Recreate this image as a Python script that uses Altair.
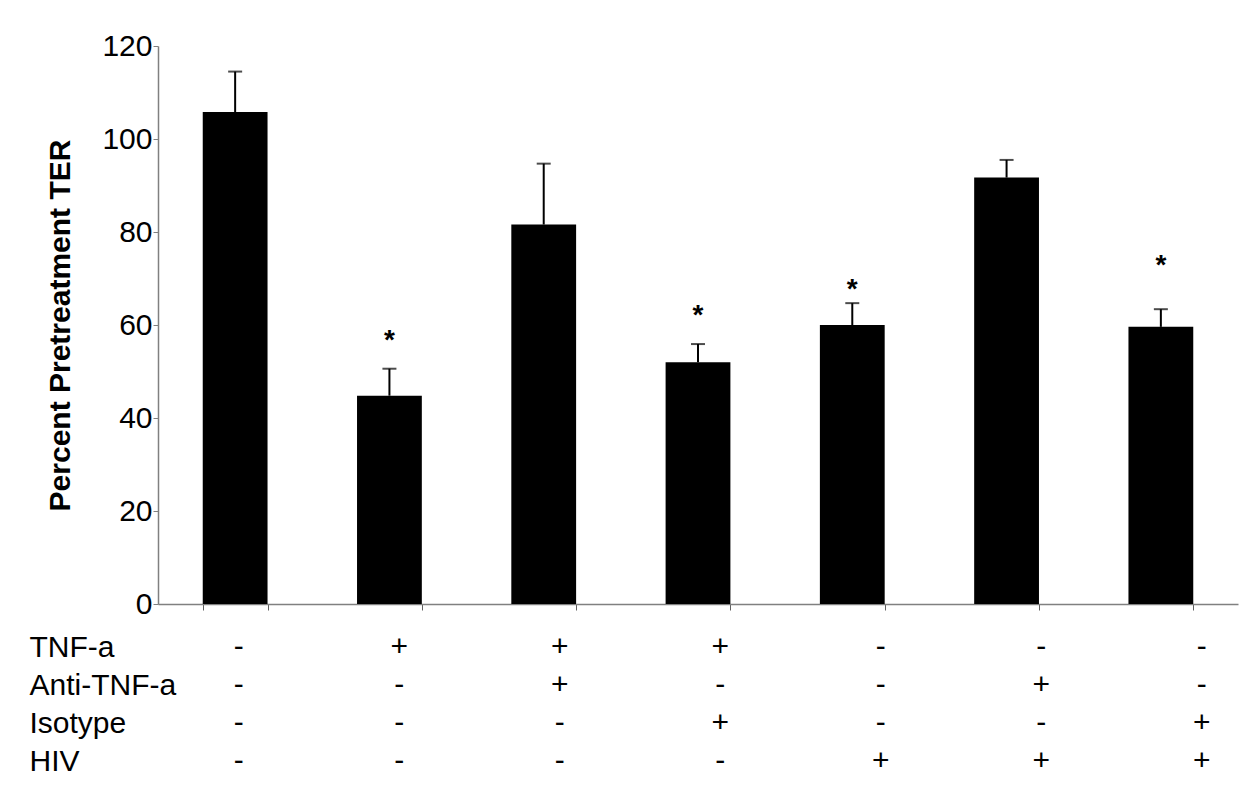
import altair as alt
import pandas as pd

# ---- data ----
conditions = ["Control", "TNF-a", "TNF-a + Anti-TNF-a", "TNF-a + Isotype",
              "HIV", "HIV + Anti-TNF-a", "HIV + Isotype"]
ter_mean = [105.8, 44.8, 81.6, 52.0, 60.0, 91.7, 59.6]
ter_err = [8.7, 5.8, 13.1, 3.9, 4.7, 3.8, 3.8]

star_conditions = ["TNF-a", "TNF-a + Isotype", "HIV", "HIV + Isotype"]
star_heights = [57.5, 62.9, 68.4, 73.5]

row_labels = ["TNF-a", "Anti-TNF-a", "Isotype", "HIV"]
tnf_row = ["-", "+", "+", "+", "-", "-", "-"]
anti_row = ["-", "-", "+", "-", "-", "+", "-"]
iso_row = ["-", "-", "-", "+", "-", "-", "+"]
hiv_row = ["-", "-", "-", "-", "+", "+", "+"]

FONT = "Liberation Sans"

bars_df = pd.DataFrame({
    "condition": conditions,
    "mean": ter_mean,
    "top": [m + e for m, e in zip(ter_mean, ter_err)],
})
stars_df = pd.DataFrame({"condition": star_conditions, "h": star_heights, "s": ["*"] * len(star_conditions)})

table_rows = []
for label, row in zip(row_labels, [tnf_row, anti_row, iso_row, hiv_row]):
    for c, sym in zip(conditions, row):
        table_rows.append({"row": label, "condition": c, "sym": sym})
table_df = pd.DataFrame(table_rows)

x_main = alt.X(
    "condition:N", sort=conditions, title=None,
    scale=alt.Scale(paddingInner=0.58, paddingOuter=0.29),
    axis=alt.Axis(labels=False, domainColor="#808080", tickColor="#606060",
                  tickSize=6, tickBand="extent", domainWidth=1.5),
)
y_main = alt.Y(
    "mean:Q", title="Percent Pretreatment TER",
    scale=alt.Scale(domain=[0, 120], nice=False),
    axis=alt.Axis(values=[0, 20, 40, 60, 80, 100, 120], grid=False,
                  labelFontSize=30, labelFont=FONT, labelColor="black", labelPadding=1,
                  tickSize=5, tickColor="#808080", domainColor="#808080", domainWidth=1.5,
                  titleFontSize=30, titleFont=FONT, titleFontWeight="bold",
                  titleColor="black", titlePadding=26),
)

bars = alt.Chart(bars_df).mark_bar(color="black").encode(x=x_main, y=y_main)
err_line = alt.Chart(bars_df).mark_rule(color="black", strokeWidth=2).encode(
    x=alt.X("condition:N", sort=conditions), y="mean:Q", y2="top:Q")
err_cap = alt.Chart(bars_df).mark_tick(color="black", thickness=2, size=14).encode(
    x=alt.X("condition:N", sort=conditions), y="top:Q")
stars = alt.Chart(stars_df).mark_text(
    font=FONT, fontSize=28, fontWeight="bold", color="black", baseline="middle", dy=4
).encode(x=alt.X("condition:N", sort=conditions), y="h:Q", text="s:N")

main = alt.layer(bars, err_line, err_cap, stars).properties(width=1080, height=558)

table = alt.Chart(table_df).mark_text(
    font=FONT, fontSize=30, color="black", baseline="middle"
).encode(
    x=alt.X("condition:N", sort=conditions, title=None,
            scale=alt.Scale(type="point", padding=0.364, align=0.69), axis=None),
    y=alt.Y("row:N", sort=row_labels, title=None,
            axis=alt.Axis(domain=False, ticks=False, tickSize=0, labelAlign="left",
                          labelPadding=129, labelFontSize=30, labelFont=FONT,
                          labelColor="black", labelBaseline="middle")),
    text="sym:N",
).properties(width=1080, height=152)

chart = alt.vconcat(main, table, spacing=24, bounds="flush").resolve_scale(
    x="independent", y="independent"
).properties(
    padding={"left": 21, "top": 23, "right": 5, "bottom": 5}
).configure(font=FONT).configure_view(strokeWidth=0)

chart.save("out.html", embed_options={"renderer": "svg", "actions": False})
